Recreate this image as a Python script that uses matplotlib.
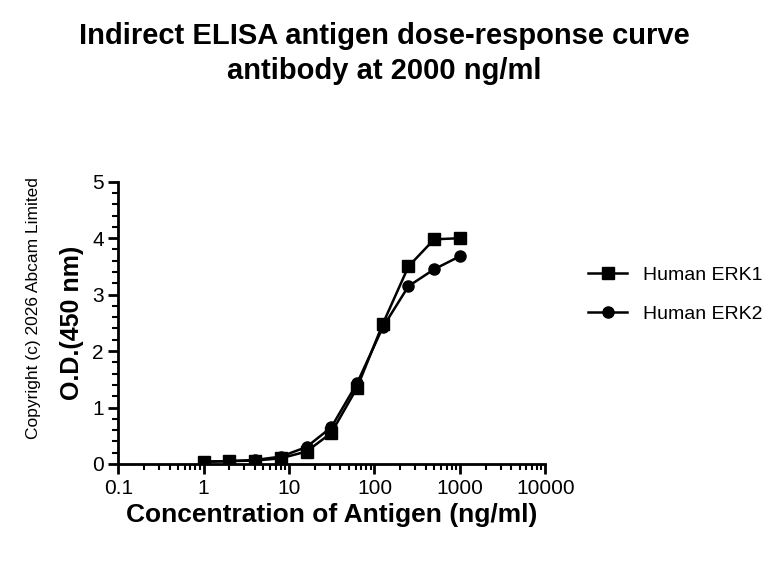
import matplotlib
matplotlib.use("Agg")
import matplotlib.pyplot as plt
from matplotlib.ticker import FixedLocator, NullFormatter, MultipleLocator

conc = [1, 2, 4, 8, 16, 31.25, 62.5, 125, 250, 500, 1000]
erk1 = [0.04, 0.05, 0.06, 0.10, 0.22, 0.55, 1.35, 2.48, 3.50, 3.98, 4.00]
erk2 = [0.04, 0.05, 0.07, 0.13, 0.30, 0.65, 1.43, 2.42, 3.15, 3.45, 3.68]

plt.rcParams["font.family"] = ["Liberation Sans", "DejaVu Sans"]

fig = plt.figure(figsize=(7.68, 5.61), dpi=100)
ax = fig.add_axes([0.154, 0.173, 0.556, 0.503])

ax.plot(conc, erk1, color="black", marker="s", markersize=8, lw=1.8, label="Human ERK1")
ax.plot(conc, erk2, color="black", marker="o", markersize=8, lw=1.8, label="Human ERK2")

ax.set_xscale("log")
ax.set_xlim(0.1, 10000)
ax.set_ylim(0, 5)
ax.set_xticks([0.1, 1, 10, 100, 1000, 10000])
ax.set_xticklabels(["0.1", "1", "10", "100", "1000", "10000"])
minors = [m * 10.0 ** e for e in range(-1, 4) for m in range(2, 10)]
ax.xaxis.set_minor_locator(FixedLocator(minors))
ax.xaxis.set_minor_formatter(NullFormatter())
ax.yaxis.set_major_locator(MultipleLocator(1))
ax.yaxis.set_minor_locator(MultipleLocator(0.2))

for s in ["top", "right"]:
    ax.spines[s].set_visible(False)
for s in ["left", "bottom"]:
    ax.spines[s].set_linewidth(2)
ax.tick_params(which="major", width=2, length=7, labelsize=15)
ax.tick_params(which="minor", width=1.5, length=4)

ax.set_xlabel("Concentration of Antigen (ng/ml)", fontsize=19, fontweight="bold")
ax.set_ylabel("O.D.(450 nm)", fontsize=18, fontweight="bold", labelpad=6)
fig.text(0.043, 0.45, "Copyright (c) 2026 Abcam Limited", rotation=90, fontsize=12.5,
         ha="center", va="center")

fig.suptitle("Indirect ELISA antigen dose-response curve\nantibody at 2000 ng/ml",
             fontsize=21, fontweight="bold", y=0.96, linespacing=1.3)

ax.legend(loc="center left", bbox_to_anchor=(1.06, 0.6), frameon=False, fontsize=14,
          handlelength=2.0, labelspacing=1.1)

fig.savefig("out.png", dpi=100)
